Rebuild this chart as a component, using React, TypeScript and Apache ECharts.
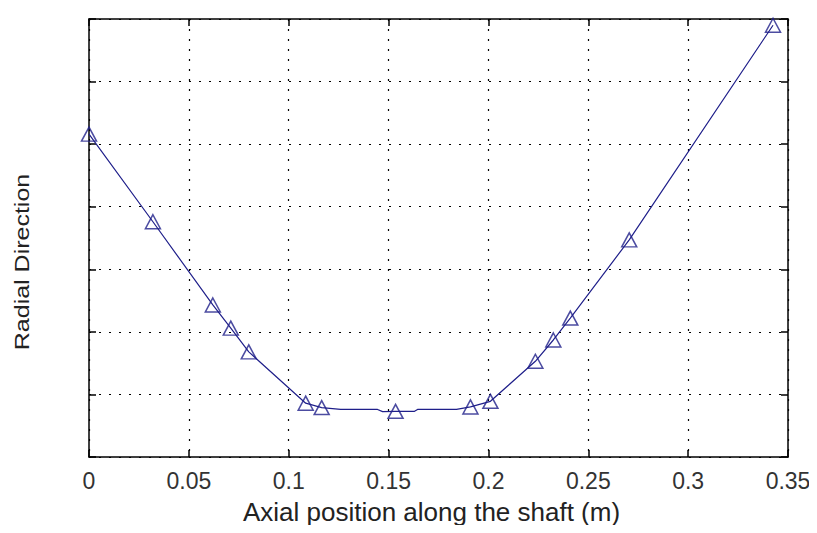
import React, { useEffect, useRef } from "react";
import * as echarts from "echarts";

// Axis ticks
const xTicks = [0, 0.05, 0.1, 0.15, 0.2, 0.25, 0.3, 0.35];
const yMin = 0;
const yMax = 7;

// Marker (triangle) positions
const markerX = [0, 0.032, 0.062, 0.071, 0.08, 0.1085, 0.1165, 0.1535, 0.191, 0.201, 0.2235, 0.2325, 0.241, 0.2705, 0.3425];
const markerY = [5.16, 3.76, 2.43, 2.06, 1.68, 0.86, 0.79, 0.73, 0.8, 0.89, 1.53, 1.87, 2.22, 3.47, 6.9];

// Line vertices (includes the markers plus the small flat steps near the bottom)
const lineX = [0, 0.032, 0.062, 0.071, 0.08, 0.1085, 0.1165, 0.126, 0.1445, 0.147, 0.1535, 0.163, 0.1645, 0.184, 0.191, 0.201, 0.2235, 0.2325, 0.241, 0.2705, 0.3425];
const lineY = [5.16, 3.76, 2.43, 2.06, 1.68, 0.86, 0.79, 0.76, 0.76, 0.725, 0.73, 0.73, 0.76, 0.76, 0.8, 0.89, 1.53, 1.87, 2.22, 3.47, 6.9];

const xTitle = "Axial position along the shaft (m)";
const yTitle = "Radial Direction";

const NAVY = "#1f1f8a";
const FONT = "'Liberation Sans', Arial, sans-serif";

export default function App() {
  const ref = useRef<HTMLDivElement>(null);
  useEffect(() => {
    if (!ref.current) return;
    const chart = echarts.init(ref.current, undefined, { renderer: "svg" });
    const axisLine = { show: true, onZero: false, lineStyle: { color: "#000", width: 1.5 } };
    const axisTick = { show: true, inside: true, length: 7, lineStyle: { color: "#000", width: 1.5 } };
    const grid = { show: true, lineStyle: { color: "#000", width: 1.2, type: [2, 8] as number[] } };
    chart.setOption({
      animation: false,
      backgroundColor: "#fff",
      grid: { left: 89, top: 19, width: 699, height: 438, containLabel: false },
      xAxis: [
        {
          type: "value",
          min: xTicks[0],
          max: xTicks[xTicks.length - 1],
          interval: 0.05,
          position: "bottom",
          axisLine,
          axisTick,
          splitLine: grid,
          axisLabel: {
            fontSize: 23,
            fontFamily: FONT,
            color: "#333",
            margin: 12,
            formatter: (v: number) => String(+v.toFixed(2)),
          },
          name: xTitle,
          nameLocation: "middle",
          nameGap: 42,
          nameTextStyle: {
            fontSize: 26,
            fontFamily: FONT,
            color: "#222",
            verticalAlign: "top",
            padding: [0, 14, 0, 0],
          },
        },
        {
          type: "value",
          min: xTicks[0],
          max: xTicks[xTicks.length - 1],
          interval: 0.05,
          position: "top",
          axisLine,
          axisTick,
          splitLine: { show: false },
          axisLabel: { show: false },
        },
      ],
      yAxis: [
        {
          type: "value",
          min: yMin,
          max: yMax,
          interval: 1,
          position: "left",
          axisLine,
          axisTick,
          splitLine: grid,
          axisLabel: { show: false },
        },
        {
          type: "value",
          min: yMin,
          max: yMax,
          interval: 1,
          position: "right",
          axisLine,
          axisTick,
          splitLine: { show: false },
          axisLabel: { show: false },
        },
      ],
      graphic: [
        {
          type: "text",
          x: 22,
          y: 262,
          rotation: Math.PI / 2,
          scaleY: 0.78,
          style: {
            text: yTitle,
            fontSize: 25,
            fontFamily: FONT,
            fill: "#222",
            align: "center",
            verticalAlign: "middle",
          },
        },
      ],
      series: [
        {
          type: "line",
          data: lineX.map((x, i) => [x, lineY[i]]),
          showSymbol: false,
          symbol: "none",
          lineStyle: { color: NAVY, width: 1.2 },
          z: 2,
        },
        {
          type: "scatter",
          data: markerX.map((x, i) => [x, markerY[i]]),
          symbol: "triangle",
          symbolSize: [15, 14],
          itemStyle: { color: "rgba(0,0,0,0)", borderColor: NAVY, borderWidth: 1.5 },
          z: 3,
        },
      ],
    });
    return () => chart.dispose();
  }, []);
  return <div ref={ref} style={{ width: 817, height: 533, margin: -8 }} />;
}
